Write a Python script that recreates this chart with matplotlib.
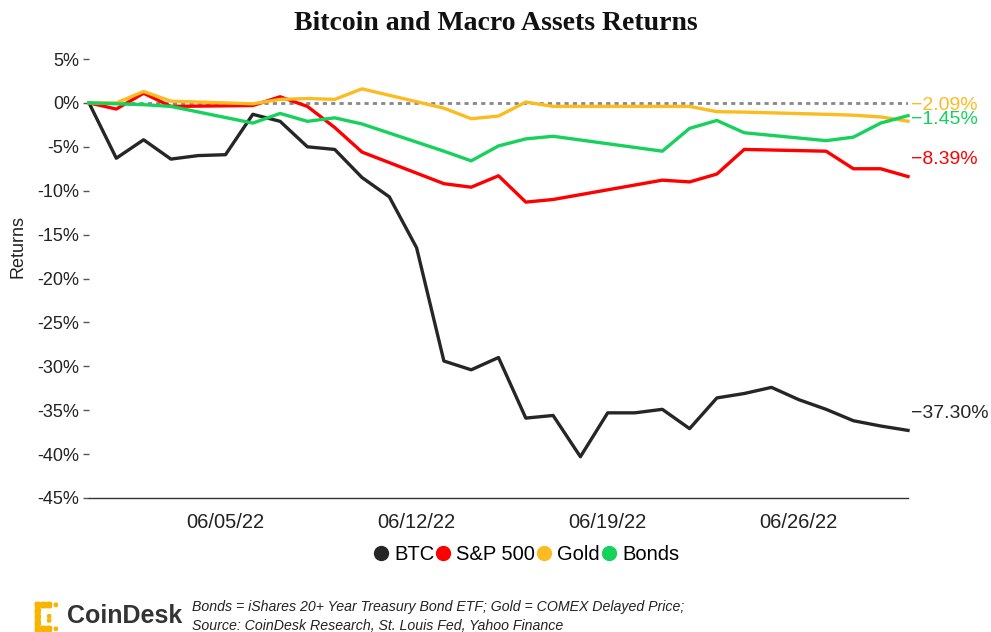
import matplotlib
matplotlib.use("Agg")
import matplotlib.pyplot as plt
import matplotlib.dates as mdates
from matplotlib.lines import Line2D
from matplotlib.patches import FancyBboxPatch
import pandas as pd

plt.rcParams['font.family'] = ['Liberation Sans', 'DejaVu Sans']

# BTC trades every day, the other assets only on market days
btc_dates = pd.date_range('2022-05-31', '2022-06-30', freq='D')
market_dates = pd.to_datetime([
    '2022-05-31', '2022-06-01', '2022-06-02', '2022-06-03', '2022-06-06',
    '2022-06-07', '2022-06-08', '2022-06-09', '2022-06-10', '2022-06-13',
    '2022-06-14', '2022-06-15', '2022-06-16', '2022-06-17', '2022-06-21',
    '2022-06-22', '2022-06-23', '2022-06-24', '2022-06-27', '2022-06-28',
    '2022-06-29', '2022-06-30',
])

# cumulative returns in %
btc = [0, -6.3, -4.2, -6.4, -6.0, -5.9, -1.3, -2.1, -5.0, -5.3, -8.5,
       -10.7, -16.5, -29.4, -30.4, -29.0, -35.9, -35.6, -40.3, -35.3, -35.3,
       -34.9, -37.1, -33.6, -33.1, -32.4, -33.8, -34.9, -36.2, -36.8, -37.30]
sp500 = [0, -0.7, 1.1, -0.4, -0.3, 0.7, -0.4, -2.8, -5.6, -9.2, -9.6,
         -8.3, -11.3, -11.0, -8.8, -9.0, -8.1, -5.3, -5.5, -7.5, -7.5, -8.39]
gold = [0, 0.0, 1.3, 0.2, -0.1, 0.4, 0.5, 0.4, 1.6, -0.6, -1.8,
        -1.5, 0.1, -0.4, -0.4, -0.4, -1.0, -1.05, -1.3, -1.4, -1.6, -2.09]
bonds = [0, -0.1, -0.2, -0.4, -2.3, -1.2, -2.1, -1.7, -2.4, -5.5, -6.6,
         -4.9, -4.1, -3.8, -5.5, -2.9, -2.0, -3.4, -4.3, -3.9, -2.3, -1.45]

date_ticks = pd.to_datetime(['2022-06-05', '2022-06-12', '2022-06-19', '2022-06-26'])
y_ticks = list(range(5, -50, -5))

# name, dates, values, colour, vertical offset of the end label (points)
series = [
    ('BTC', btc_dates, btc, '#262626', 12),
    ('S&P 500', market_dates, sp500, '#ff0000', 12),
    ('Gold', market_dates, gold, '#fbbb21', 11.5),
    ('Bonds', market_dates, bonds, '#16d25c', -2.5),
]

fig = plt.figure(figsize=(9.91, 6.32), dpi=100)
ax = fig.add_axes([89 / 991, 1 - 498 / 632, (908 - 89) / 991, (498 - 59) / 632])

ax.axhline(0, color='#888888', lw=2, linestyle=(0, (1.5, 1.5)), zorder=1)

for name, dates, values, color, dy in series:
    ax.plot(dates, values, color=color, lw=2.4, clip_on=False, zorder=3)
    ax.annotate(f'\u2212{abs(values[-1]):.2f}%', xy=(dates[-1], values[-1]),
                xytext=(2, dy), textcoords='offset points', va='center',
                ha='left', fontsize=14, color=color, annotation_clip=False)

ax.set_xlim(btc_dates[0], btc_dates[-1])
ax.set_ylim(-45, 5)
ax.set_yticks(y_ticks)
ax.yaxis.set_major_formatter(plt.FuncFormatter(lambda v, p: f'{v:.0f}%'))
ax.set_xticks(date_ticks)
ax.xaxis.set_major_formatter(mdates.DateFormatter('%m/%d/%y'))

for side in ['top', 'right', 'left']:
    ax.spines[side].set_visible(False)
ax.spines['bottom'].set_color('#333333')
ax.spines['bottom'].set_linewidth(1)
ax.tick_params(axis='y', length=4, width=1, color='#555555', pad=3,
               labelsize=13, labelcolor='#222222')
ax.tick_params(axis='x', length=0, pad=11, labelsize=14.5, labelcolor='#222222')
ax.set_ylabel('Returns', fontsize=13, color='#222222')
ax.yaxis.set_label_coords(-0.076, 0.574)

fig.text(0.5, 1 - 24 / 632, 'Bitcoin and Macro Assets Returns', ha='center',
         va='center', fontsize=20, fontweight='bold', family='Liberation Serif',
         color='#111111')

handles = [Line2D([], [], marker='o', linestyle='none', markersize=10,
                  color=c, label=n) for n, _, _, c, _ in series]
fig.legend(handles=handles, loc='center', bbox_to_anchor=(526 / 991, 1 - 555 / 632),
           ncol=4, frameon=False, fontsize=14.5, handlelength=0.8,
           handletextpad=0.25, columnspacing=0.05, borderpad=0)

# CoinDesk logo: pixel bracket plus wordmark
logo = fig.add_axes([35 / 991, 0, 28 / 991, 30 / 632])
logo.set_xlim(0, 5)
logo.set_ylim(0, 5)
logo.axis('off')
big_cells = [(0, 4), (1, 4), (2, 4), (0, 3), (0, 2), (0, 1), (0, 0), (1, 0), (2, 0)]
small_cells = [(3.4, 4.2), (3.4, 0.2), (2.2, 2.3), (2.2, 1.6)]
for cells, size in [(big_cells, 0.9), (small_cells, 0.55)]:
    for cx, cy in cells:
        logo.add_patch(FancyBboxPatch((cx + 0.05, cy + 0.05), size, size,
                                      boxstyle='round,pad=0,rounding_size=0.2',
                                      color='#f7b500', clip_on=False))
fig.text(67 / 991, 1 - 616 / 632, 'CoinDesk', ha='left', va='center',
         fontsize=18, fontweight='bold', color='#333333')

fig.text(192 / 991, 1 - 607 / 632,
         'Bonds = iShares 20+ Year Treasury Bond ETF; Gold = COMEX Delayed Price;',
         ha='left', va='center', fontsize=10.2, style='italic', color='#222222')
fig.text(192 / 991, 1 - 626 / 632,
         'Source: CoinDesk Research, St. Louis Fed, Yahoo Finance',
         ha='left', va='center', fontsize=10.2, style='italic', color='#222222')

fig.savefig('out.png', dpi=100)
